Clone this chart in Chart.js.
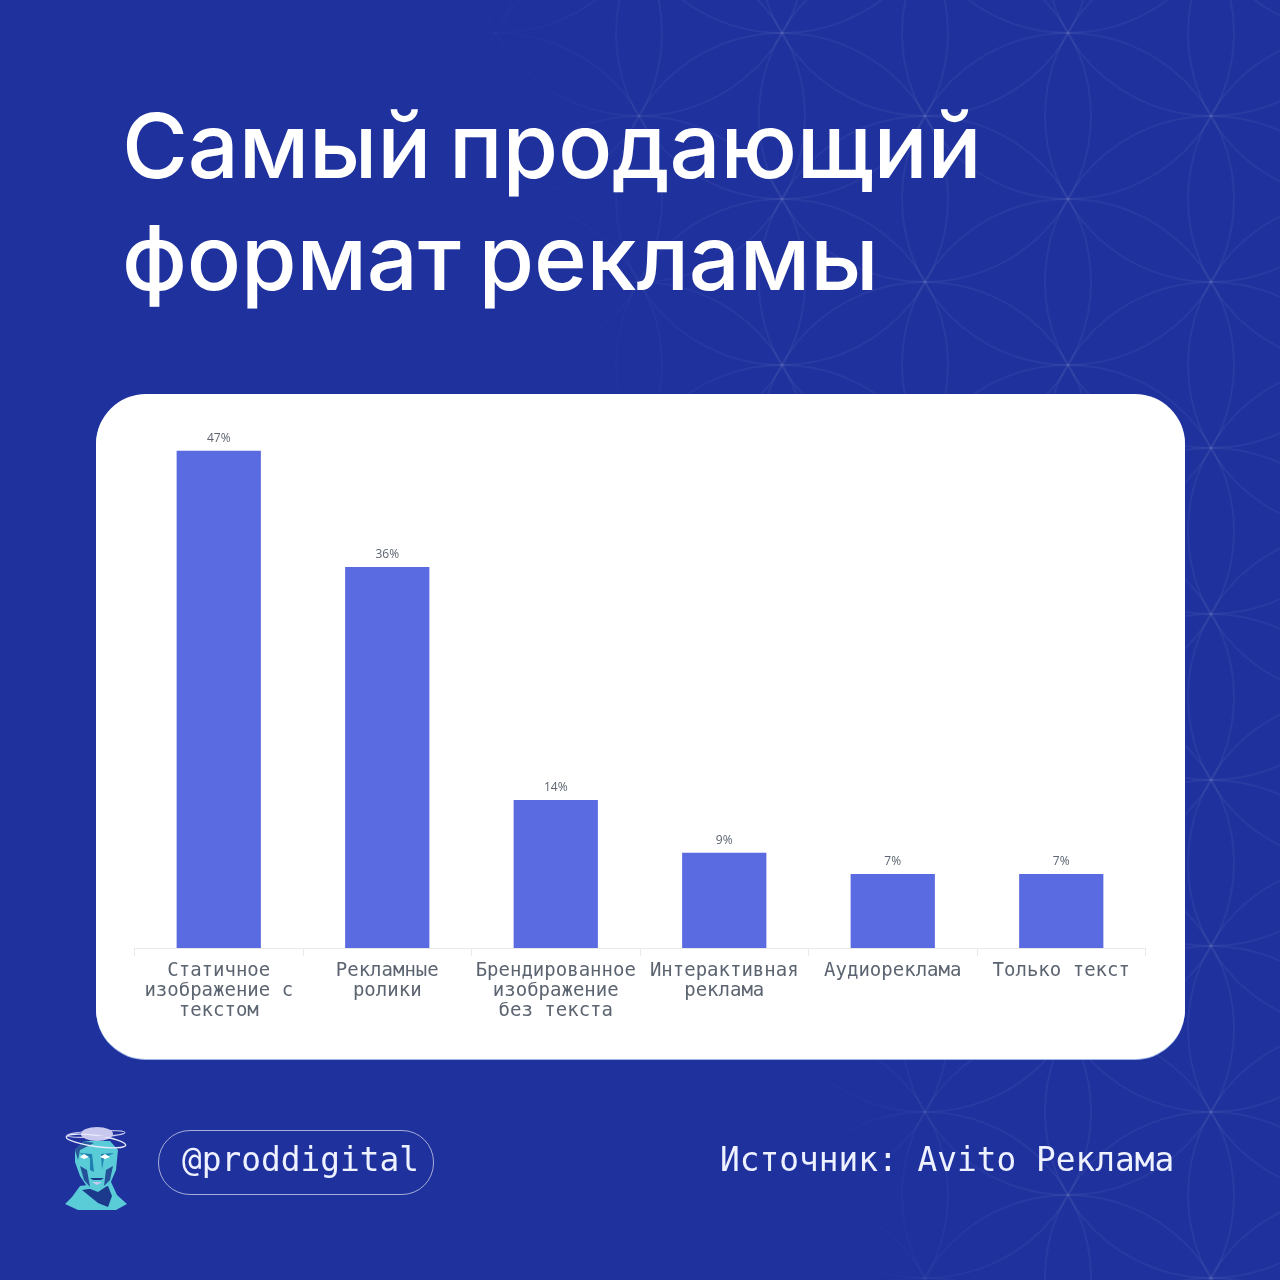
<!DOCTYPE html>
<html lang="ru">
<head>
<meta charset="utf-8">
<title>Самый продающий формат рекламы</title>
<script src="https://cdn.jsdelivr.net/npm/chart.js@4/dist/chart.umd.min.js"></script>
<style>
    html, body { margin: 0; padding: 0; background: #1e319d; }
    #page { position: relative; width: 1280px; height: 1280px; overflow: hidden; background: #1e319d; }
    #pattern, #logo { position: absolute; left: 0; top: 0; }
    #title {
        position: absolute; left: 122px; top: 90px; margin: 0;
        font: 500 90px/112px Inter, sans-serif; letter-spacing: -0.2px; word-spacing: -6px; color: #fff;
    }
    #card {
        position: absolute; left: 96px; top: 394px; width: 1089px; height: 665px;
        background: #fff; border-radius: 50px; box-shadow: 0 1px 0 #9db6e6;
    }
    #chartBox { position: absolute; left: 0; top: 0; width: 1089px; height: 665px; }
    .mono { position: absolute; font-family: "DejaVu Sans Mono", monospace; font-size: 32.8px; color: #eef1ff; white-space: nowrap; }
    #pill {
        position: absolute; left: 158px; top: 1130px; width: 274px; height: 63px;
        border: 1px solid rgba(255, 255, 255, 0.6); border-radius: 32px;
    }
</style>
</head>
<body>
<div id="page">
    <svg id="pattern" width="1280" height="1280" xmlns="http://www.w3.org/2000/svg">
        <defs>
            <linearGradient id="fade" gradientUnits="userSpaceOnUse" x1="460" y1="0" x2="630" y2="-51">
                <stop offset="0" stop-color="#000"/>
                <stop offset="1" stop-color="#fff"/>
            </linearGradient>
            <mask id="fadeMask"><rect width="1280" height="1280" fill="url(#fade)"/></mask>
        </defs>
        <g id="circles" mask="url(#fadeMask)" fill="none" stroke="#fff" stroke-opacity="0.05" stroke-width="2"></g>
    </svg>

    <h1 id="title">Самый продающий<br>формат рекламы</h1>

    <div id="card">
        <div id="chartBox"><canvas id="barChart" width="1089" height="665"></canvas></div>
    </div>

    <svg id="logo" width="1280" height="1280" xmlns="http://www.w3.org/2000/svg">
        <!-- shoulders and neck -->
        <path d="M80 1186 L72 1197 L65 1204 L78 1210 L116 1210 L127 1204 L117 1195 L111 1182 Z" fill="#5accd8"/>
        <path d="M82 1190 L98 1203 L108 1207 L112 1196 L108 1186 Z" fill="#1b3a8c"/>
        <!-- face -->
        <path d="M75 1150 L84 1141 L110 1141 L118 1150 L116 1170 L110 1184 L98 1192 L88 1188 L80 1176 L75 1162 Z" fill="#5accd8"/>
        <path d="M75 1150 L84 1141 L94 1143 L80 1150 L78 1160 Z" fill="#1b3a8c" opacity="0.8"/>
        <path d="M80 1166 L87 1170 L90 1187 L84 1180 Z M113 1166 L106 1170 L104 1186 L110 1180 Z" fill="#1b3a8c" opacity="0.85"/>
        <path d="M79 1153 L92 1154 L94 1172 L90 1170 L90 1158 Z M114 1153 L101 1154 L102 1170 L104 1158 Z" fill="#1f7fb0"/>
        <path d="M90 1178 L104 1178 L101 1180 L93 1180 Z" fill="#1b3a8c"/>
        <path d="M92 1182 L102 1182 L97 1185 Z" fill="#c9c8ee"/>
        <path d="M80 1157 L84 1154 L89 1157 L84 1159 Z M100 1157 L105 1154 L110 1157 L105 1159 Z" fill="#fff"/>
        <!-- halo -->
        <ellipse cx="97" cy="1134" rx="16" ry="7" fill="#c9c8ee"/>
        <ellipse cx="96" cy="1141" rx="30" ry="5.5" fill="none" stroke="#e6e9ff" stroke-width="1.4" transform="rotate(8 96 1141)"/>
        <ellipse cx="96" cy="1134" rx="29" ry="3" fill="none" stroke="#c9c8ee" stroke-width="1.1" transform="rotate(-3 96 1134)"/>
    </svg>

    <div id="pill"></div>
    <div class="mono" style="left: 182px; top: 1141px;">@proddigital</div>
    <div class="mono" style="left: 720px; top: 1141px;">Источник: Avito Реклама</div>
</div>

<script>
    // Chart data
    const categories = [
        ['Статичное', 'изображение с', 'текстом'],
        ['Рекламные', 'ролики'],
        ['Брендированное', 'изображение', 'без текста'],
        ['Интерактивная', 'реклама'],
        ['Аудиореклама'],
        ['Только текст']
    ];
    const shares = [47, 36, 14, 9, 7, 7];

    // Background pattern: rings on a hexagonal grid
    const ringGroup = document.getElementById('circles');
    for (let col = -6; col <= 2; col++) {
        for (let row = -1; row <= 8; row++) {
            const ring = document.createElementNS('http://www.w3.org/2000/svg', 'circle');
            ring.setAttribute('cx', 1068 + col * 143);
            ring.setAttribute('cy', 33 + row * 166 + (col % 2 !== 0 ? 83 : 0));
            ring.setAttribute('r', 166);
            ringGroup.appendChild(ring);
        }
    }

    // Prints the percentage above each bar
    const barValueLabels = {
        id: 'barValueLabels',
        afterDatasetsDraw(chart) {
            const ctx = chart.ctx;
            ctx.save();
            ctx.font = '12px "Open Sans", sans-serif';
            ctx.fillStyle = '#5b6470';
            ctx.textAlign = 'center';
            ctx.textBaseline = 'alphabetic';
            chart.getDatasetMeta(0).data.forEach(function (bar, i) {
                ctx.fillText(shares[i] + '%', bar.x, bar.y - 9);
            });
            ctx.restore();
        }
    };

    new Chart(document.getElementById('barChart').getContext('2d'), {
        type: 'bar',
        data: {
            labels: categories,
            datasets: [{
                data: shares,
                backgroundColor: '#5a6ae0',
                barPercentage: 0.5,
                categoryPercentage: 1
            }]
        },
        plugins: [barValueLabels],
        options: {
            responsive: false,
            animation: false,
            layout: { padding: { left: 38.5, right: 39.5, top: 25, bottom: 0 } },
            plugins: { legend: { display: false }, title: { display: false }, tooltip: { enabled: false } },
            scales: {
                x: {
                    afterFit(axis) { axis.height = 111; },
                    grid: { display: true, drawOnChartArea: false, color: '#e9e9ec', tickLength: 8, offset: true },
                    border: { color: '#e9e9ec' },
                    ticks: {
                        color: '#5b6470',
                        maxRotation: 0,
                        autoSkip: false,
                        padding: 5,
                        font: { family: '"DejaVu Sans Mono", monospace', size: 19, lineHeight: 1.05 }
                    }
                },
                y: { display: false, min: 0, max: 50 }
            }
        }
    });
</script>
</body>
</html>
